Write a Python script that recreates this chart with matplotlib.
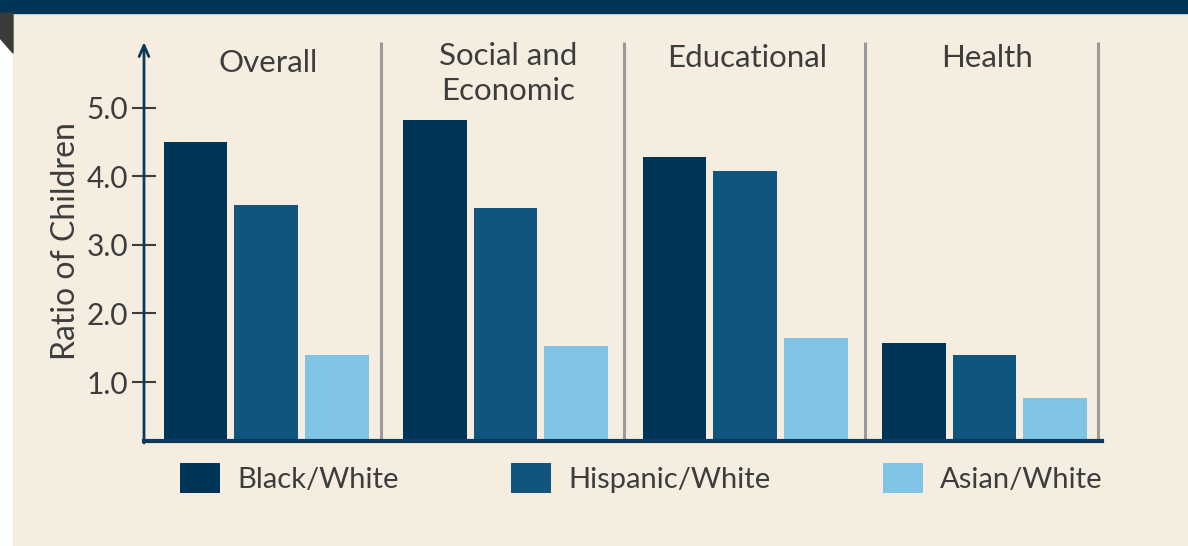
import numpy as np
import matplotlib.pyplot as plt
from matplotlib.patches import Rectangle, Polygon

# ratio of children, by domain and group comparison
domains = ["Overall", "Social and\nEconomic", "Educational", "Health"]
series = ["Black/White", "Hispanic/White", "Asian/White"]
black_white = [4.50, 4.82, 4.28, 1.57]
hispanic_white = [3.58, 3.54, 4.08, 1.39]
asian_white = [1.39, 1.53, 1.64, 0.77]
yticks = [1.0, 2.0, 3.0, 4.0, 5.0]

colors = ["#013557", "#0f557e", "#7fc4e5"]
cream = "#f5ede0"
navy = "#003558"
text_col = "#3d3d3d"

plt.rcParams["font.family"] = ["Lato", "DejaVu Sans"]

W, H = 1188, 546
fig = plt.figure(figsize=(W / 100, H / 100), dpi=100)
fig.patch.set_facecolor("white")

# page background, top band and folded corner
fig.patches.append(Rectangle((13 / W, 0), 1 - 13 / W, 1 - 13 / H,
                             transform=fig.transFigure, color=cream, zorder=-2))
fig.patches.append(Rectangle((0, 1 - 13 / H), 1, 13 / H,
                             transform=fig.transFigure, color=navy, zorder=-2))
fig.patches.append(Polygon([(0, 1 - 13 / H), (13 / W, 1 - 13 / H),
                            (13 / W, 1 - 53 / H), (0, 1 - 38 / H)],
                           closed=True, transform=fig.transFigure,
                           color="#3a3a3a", zorder=-2))

ax = fig.add_axes([144 / W, 1 - 441 / H, (1102 - 144) / W, (441 - 42) / H])
ax.set_facecolor("none")

x = np.arange(len(domains))
pitch = 0.295
width = 0.266
for i, (vals, c) in enumerate(zip([black_white, hispanic_white, asian_white], colors)):
    ax.bar(x + (i - 1) * pitch, vals, width, color=c, label=series[i],
           edgecolor="none", zorder=2)

ax.set_xlim(-0.51, 3.49)
ax.set_ylim(0.14, 5.96)

# separators between domains
sep_x = [0.48, 1.495, 2.50, 3.475]
ax.vlines(sep_x, 0.14, 5.96, color="#9a9a9a", lw=2.2, zorder=1)

# group titles
title_y = [5.86, 5.96, 5.93, 5.93]
for xi, name, ty in zip(x, domains, title_y):
    ax.text(xi + 0.01, ty, name, ha="center", va="top", fontsize=22.5,
            color=text_col, linespacing=1.3)

for s in ["top", "right", "left"]:
    ax.spines[s].set_visible(False)
ax.spines["bottom"].set_color("#0d3a5c")
ax.spines["bottom"].set_linewidth(3)
ax.spines["bottom"].set_zorder(3)

# y axis with arrow head
ax.annotate("", xy=(0, 1.0), xytext=(0, -0.005), xycoords="axes fraction",
            arrowprops=dict(arrowstyle="->,head_length=0.8,head_width=0.35",
                            color="#0d3a5c", lw=2, shrinkA=0, shrinkB=0))

ax.set_xticks([])
ax.set_yticks(yticks)
ax.set_yticklabels([f"{v:.1f}" for v in yticks], fontsize=21.5, color=text_col)
ax.tick_params(axis="y", direction="inout", length=17, width=1.5,
               color=text_col, pad=3)
ax.set_ylabel("Ratio of Children", fontsize=23, color=text_col)
ax.yaxis.set_label_coords(-0.066, 0.5)

leg = fig.legend(loc="center left", bbox_to_anchor=(154 / W, 1 - 478 / H),
                 ncol=3, frameon=False, fontsize=21, handlelength=1.36,
                 handleheight=1.25, handletextpad=0.6, columnspacing=3.85,
                 labelcolor=text_col)

fig.savefig("out.png", dpi=100, facecolor=fig.get_facecolor())
